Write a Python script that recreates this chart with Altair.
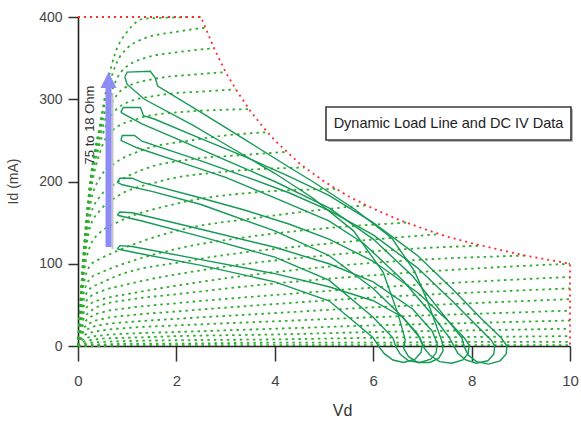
import altair as alt
import pandas as pd

# ---------------- data ----------------
X_TICKS = [0, 2, 4, 6, 8, 10]
Y_TICKS = [0, 100, 200, 300, 400]

# power-limit boundary (red dotted)
LIMIT_X = [0, 2.5, 2.75, 3.0, 3.25, 3.5, 3.75, 4.0, 4.5, 5.0, 5.5, 6.0, 6.5, 7.0, 7.5, 8.0, 9.0, 10.0, 10.0]
LIMIT_Y = [400, 400, 364, 333, 308, 286, 267, 250, 222, 200, 182, 167, 154, 143, 133, 125, 111, 100, 0]

# DC IV curves (green dotted) - upper family, ending on the limit line
c01_x = [0, 0.1, 0.25, 0.45, 0.6, 0.75, 1.0, 1.35, 2.5]
c01_y = [0, 100, 200, 270, 320, 355, 382, 398, 400]
c02_x = [0, 0.1, 0.25, 0.45, 0.6, 0.8, 1.0, 1.35, 2.0, 2.58]
c02_y = [0, 100, 200, 268, 310, 346, 362, 374, 382, 387]
c03_x = [0, 0.1, 0.25, 0.45, 0.62, 0.87, 1.35, 2.0, 2.76]
c03_y = [0, 99, 198, 262, 298, 333, 350, 357, 362]
c04_x = [0, 0.1, 0.25, 0.45, 0.62, 0.95, 1.67, 2.35, 3.0]
c04_y = [0, 98, 194, 255, 286, 314, 326, 330, 333]
c05_x = [0, 0.1, 0.25, 0.45, 0.65, 1.0, 1.67, 2.68, 3.2]
c05_y = [0, 97, 190, 247, 277, 296, 305, 310, 312]
c06_x = [0, 0.1, 0.25, 0.45, 0.7, 1.2, 2.0, 3.47]
c06_y = [0, 95, 183, 236, 262, 276, 284, 288]
c07_x = [0, 0.1, 0.25, 0.45, 0.7, 1.3, 2.3, 3.0, 3.85]
c07_y = [0, 92, 172, 205, 220, 238, 250, 256, 260]
c08_x = [0, 0.1, 0.25, 0.45, 0.7, 1.3, 2.3, 3.3, 4.24]
c08_y = [0, 88, 158, 182, 195, 214, 227, 232, 236]
c09_x = [0, 0.1, 0.25, 0.45, 0.7, 1.65, 3.0, 4.6]
c09_y = [0, 84, 145, 165, 178, 200, 212, 217]
c10_x = [0, 0.1, 0.25, 0.45, 0.76, 2.0, 3.66, 5.24]
c10_y = [0, 78, 122, 138, 149, 173, 187, 191]
c11_x = [0, 0.1, 0.25, 0.45, 0.7, 2.0, 3.66, 5.0, 5.85]
c11_y = [0, 70, 98, 106, 113, 140, 156, 166, 171]
c12_x = [0, 0.1, 0.25, 0.45, 0.7, 2.0, 3.5, 5.0, 6.67]
c12_y = [0, 60, 82, 89, 95, 118, 133, 143, 150]
c13_x = [0, 0.1, 0.25, 0.45, 0.7, 2.3, 5.0, 6.5, 7.35]
c13_y = [0, 52, 70, 76, 83, 104, 124, 132, 136]
c14_x = [0, 0.1, 0.25, 0.5, 1.0, 2.5, 5.0, 7.0, 8.2]
c14_y = [0, 45, 60, 67, 75, 92, 110, 119, 122]
c15_x = [0, 0.1, 0.25, 0.5, 1.0, 2.5, 5.0, 7.0, 9.1]
c15_y = [0, 38, 51, 57, 63, 78, 96, 105, 110]

# lower family, running to Vd = 10
LOW_X = [0, 0.1, 0.25, 0.5, 1, 2, 4, 6, 8, 10]
c16_y = [0, 31, 42, 50, 56, 63, 76, 86, 94, 100]
c17_y = [0, 25, 35, 41, 46, 52, 62, 71, 78, 84]
c18_y = [0, 20, 28, 33, 37, 42, 51, 59, 65, 70]
c19_y = [0, 16, 22, 26, 29, 33, 40, 47, 52, 57]
c20_y = [0, 12, 16, 19, 22, 25, 30, 35, 39, 43]
c21_y = [0, 8, 11, 13, 15, 17, 21, 25, 28, 31]
c22_y = [0, 5, 7, 9, 10, 12, 14, 17, 19, 21]
c23_y = [0, 3, 4, 5, 6, 7, 8, 10, 11, 12]
c24_y = [0, 1, 2, 2, 3, 3, 4, 4, 5, 5]
c25_y = [0, 0, 0, 0, 1, 1, 1, 1, 1, 1]

# dynamic load-line loops (solid green)
loop1 = [(0.95, 327), (1.0, 333), (1.47, 334), (1.57, 326), (1.62, 316), (2.5, 284), (3.42, 250), (4.3, 217),
         (4.77, 200), (5.63, 166), (6.38, 131), (6.84, 91), (7.1, 55), (7.3, 22), (7.4, 5), (7.42, -6),
         (7.33, -15), (7.15, -20), (6.9, -20), (6.72, -13), (6.62, -3), (6.65, 8), (6.5, 40), (6.2, 90),
         (5.6, 140), (4.77, 180), (4.0, 210), (3.0, 245), (2.35, 268), (1.35, 300), (1.0, 318), (0.95, 327)]
loop2 = [(0.87, 284), (0.92, 290), (1.27, 290), (1.33, 280), (1.55, 276), (2.5, 252), (3.4, 230), (4.3, 206),
         (5.1, 183), (6.0, 150), (6.9, 110), (7.6, 70), (8.2, 33), (8.6, 10), (8.72, 0), (8.7, -10),
         (8.58, -18), (8.35, -22), (8.1, -19), (7.93, -11), (7.86, -2), (7.8, 10), (7.4, 40), (6.8, 85),
         (6.0, 130), (5.1, 168), (4.0, 200), (3.0, 226), (2.0, 252), (1.3, 270), (0.87, 284)]
loop3 = [(0.87, 250), (0.9, 256), (1.15, 256), (1.3, 249), (2.5, 225), (3.4, 206), (4.3, 186), (5.1, 165),
         (6.0, 135), (6.9, 95), (7.6, 55), (8.1, 25), (8.4, 7), (8.47, 0), (8.45, -10), (8.33, -18),
         (8.1, -21), (7.88, -17), (7.72, -9), (7.65, -1), (7.55, 10), (7.2, 38), (6.6, 80), (5.8, 125),
         (5.1, 152), (4.0, 180), (3.0, 205), (2.0, 225), (1.2, 241), (0.87, 250)]
loop4 = [(0.8, 199), (0.85, 204), (1.1, 204), (1.3, 199), (2.5, 180), (3.4, 165), (4.3, 148), (5.1, 130),
         (6.0, 103), (6.9, 65), (7.5, 32), (7.85, 10), (7.95, 1), (7.93, -9), (7.82, -17), (7.6, -21),
         (7.35, -19), (7.15, -11), (7.03, -2), (6.95, 10), (6.6, 35), (6.0, 70), (5.1, 110), (4.0, 140),
         (2.5, 172), (1.5, 188), (0.9, 196), (0.8, 199)]
loop5 = [(0.8, 159), (0.85, 163), (1.1, 162), (2.5, 142), (4.0, 120), (5.1, 100), (6.0, 78), (6.8, 45),
         (7.2, 18), (7.3, 3), (7.28, -8), (7.17, -16), (6.95, -20), (6.72, -18), (6.55, -10), (6.46, -1),
         (6.4, 10), (6.0, 35), (5.1, 80), (4.0, 108), (2.5, 133), (1.3, 152), (0.8, 159)]
loop6 = [(0.8, 118), (0.85, 122), (1.1, 121), (2.5, 105), (4.0, 88), (5.1, 72), (6.0, 55), (6.6, 35),
         (6.9, 15), (7.0, 2), (6.97, -8), (6.85, -16), (6.62, -20), (6.4, -17), (6.22, -9), (6.12, -1),
         (6.0, 10), (5.6, 30), (5.1, 55), (4.0, 78), (2.5, 98), (1.2, 113), (0.8, 118)]

LEGEND_TEXT = "Dynamic Load Line and DC IV Data"
ARROW_TEXT = "75 to 18 Ohm"

# ---------------- tables ----------------
upper = [(c01_x, c01_y), (c02_x, c02_y), (c03_x, c03_y), (c04_x, c04_y), (c05_x, c05_y),
         (c06_x, c06_y), (c07_x, c07_y), (c08_x, c08_y), (c09_x, c09_y), (c10_x, c10_y),
         (c11_x, c11_y), (c12_x, c12_y), (c13_x, c13_y), (c14_x, c14_y), (c15_x, c15_y)]
lower = [c16_y, c17_y, c18_y, c19_y, c20_y, c21_y, c22_y, c23_y, c24_y, c25_y]

iv_rows = []
for k, (xs_, ys_) in enumerate(upper):
    for x, y in zip(xs_, ys_):
        iv_rows.append({"curve": f"u{k}", "Vd": x, "Id": y})
for k, ys_ in enumerate(lower):
    for x, y in zip(LOW_X, ys_):
        iv_rows.append({"curve": f"l{k}", "Vd": x, "Id": y})
iv_df = pd.DataFrame(iv_rows)

limit_df = pd.DataFrame({"Vd": LIMIT_X, "Id": LIMIT_Y, "i": list(range(len(LIMIT_X)))})

loop_rows = []
for k, lp in enumerate([loop1, loop2, loop3, loop4, loop5, loop6]):
    for i, (x, y) in enumerate(lp):
        loop_rows.append({"loop": k, "i": i, "Vd": x, "Id": y})
loop_df = pd.DataFrame(loop_rows)

one = pd.DataFrame({"a": [0]})

FONT = "Liberation Sans"
xs = alt.Scale(domain=[0, 10], nice=False, zero=False)
ys = alt.Scale(domain=[0, 400], nice=False)

X_ENC = alt.X("Vd:Q", scale=xs, axis=alt.Axis(values=X_TICKS, title="Vd"))
Y_ENC = alt.Y("Id:Q", scale=ys, axis=alt.Axis(values=Y_TICKS, title="Id (mA)"))

iv = alt.Chart(iv_df).mark_line(color="#2fae2f", strokeWidth=1.8, strokeDash=[2.5, 4],
                                interpolate="monotone").encode(
    x=X_ENC, y=Y_ENC, detail="curve:N",
)

limit = alt.Chart(limit_df).mark_line(color="#ff2a2a", strokeWidth=1.8, strokeDash=[2, 4]).encode(
    x=X_ENC, y=Y_ENC, order="i:Q"
)

loops = alt.Chart(loop_df).mark_line(color="#169a55", strokeWidth=1.4, clip=False).encode(
    x=X_ENC, y=Y_ENC, detail="loop:N", order="i:Q"
)

box_shadow = alt.Chart(one).mark_rect(color="#b8b8b8").encode(
    x=alt.value(250), x2=alt.value(495), y=alt.value(92), y2=alt.value(125))
box = alt.Chart(one).mark_rect(fill="white", stroke="#3a3a3a", strokeWidth=1.6).encode(
    x=alt.value(248), x2=alt.value(493), y=alt.value(90), y2=alt.value(123))
box_text = alt.Chart(one).mark_text(text=LEGEND_TEXT, font=FONT, fontSize=14.5, color="#222",
                                    align="center", baseline="middle").encode(
    x=alt.value(370.5), y=alt.value(107))

arrow_shadow = alt.Chart(one).mark_rule(color="#c4c4c4", strokeWidth=2).encode(
    x=alt.value(34.5), y=alt.value(76), y2=alt.value(232))
arrow_shaft = alt.Chart(one).mark_rule(color="#8c8cf4", strokeWidth=6).encode(
    x=alt.value(30.5), y=alt.value(68), y2=alt.value(230))
arrow_head = alt.Chart(one).mark_point(shape="M0,-1 L1,1 L-1,1 Z", size=256, filled=True,
                                       color="#8c8cf4", opacity=1).encode(
    x=alt.value(30.5), y=alt.value(63))
arrow_text = alt.Chart(one).mark_text(text=ARROW_TEXT, font=FONT, fontSize=13, color="#333", angle=270,
                                      align="center", baseline="middle").encode(
    x=alt.value(12), y=alt.value(108))

chart = alt.layer(iv, limit, loops, box_shadow, box, box_text, arrow_shadow, arrow_shaft, arrow_head,
                  arrow_text).properties(
    width=492, height=329,
    autosize=alt.AutoSizeParams(type="none"),
    padding={"left": 78, "top": 17, "right": 11, "bottom": 75},
    background="white",
).configure_view(stroke=None).configure_axis(
    grid=False, tickWidth=1.5, tickColor="#333", domainColor="#222", domainWidth=1.6,
    labelColor="#444", labelFont=FONT, titleFont=FONT, titleFontWeight="normal", labelFlush=False,
).configure_axisBottom(
    tickSize=15, labelFontSize=15, labelPadding=12, titleFontSize=16, titleColor="#333",
    titleX=264, titleY=64, titleBaseline="middle", titleAlign="center",
).configure_axisLeft(
    tickSize=10, labelFontSize=14, labelPadding=6, titleFontSize=14, titleColor="#444",
    titleAngle=270, titleX=-65, titleY=164, titleBaseline="middle", titleAlign="center",
)

chart.save("out.html", embed_options={"renderer": "svg", "actions": False})
